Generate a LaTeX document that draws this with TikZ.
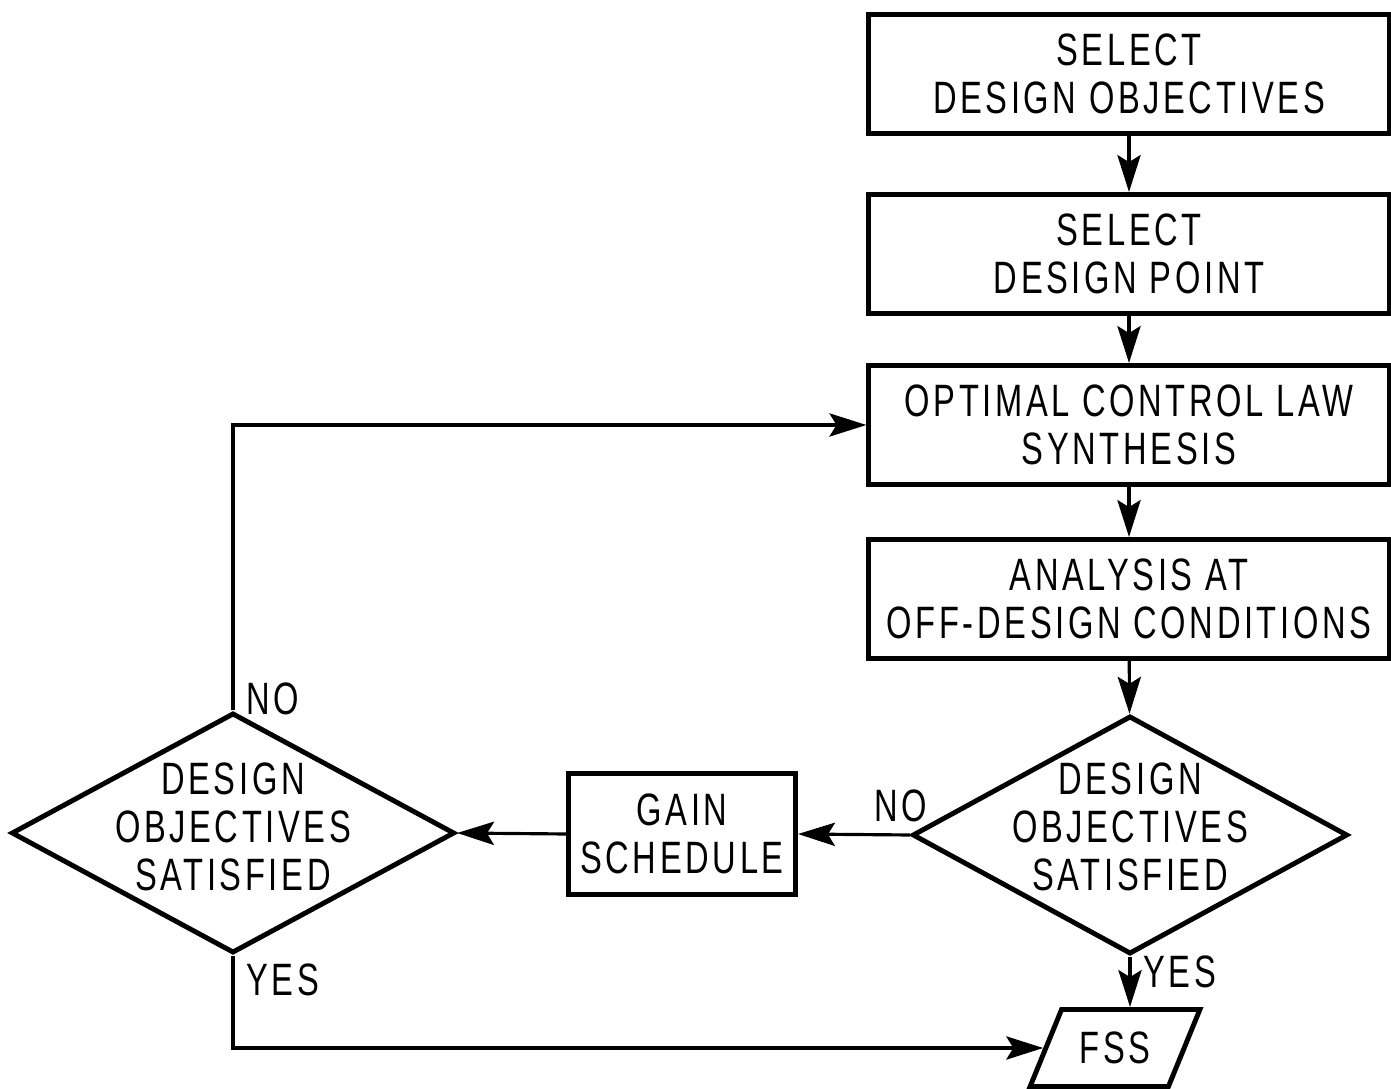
\documentclass[tikz,border=0pt]{standalone}
\usepackage{fontspec}
\setmainfont{Liberation Sans}[FakeStretch=0.72,LetterSpace=8]
\usetikzlibrary{arrows.meta,shapes.geometric}

\begin{document}
\begin{tikzpicture}[x=0.01cm,y=-0.01cm,
	font=\fontsize{12.9}{13.6}\selectfont,
	>={Stealth[length=10.5pt,width=6.6pt,inset=2pt]},
	box/.style={draw,line width=1.4pt,align=center,inner sep=0pt,minimum width=5.2cm,minimum height=1.19cm},
	decision/.style={draw,diamond,line width=1.4pt,inner sep=0pt,minimum width=4.35cm,minimum height=2.38cm},
	flow/.style={line width=0.9pt}]
	\useasboundingbox (0,0) rectangle (1391,1089);

	\node [box] (objectives) at (1129,74) {SELECT\\DESIGN OBJECTIVES};
	\node [box] (point) at (1129,254) {SELECT\\DESIGN POINT};
	\node [box] (synthesis) at (1129,425) {OPTIMAL CONTROL LAW\\SYNTHESIS};
	\node [box] (offdesign) at (1129,599) {ANALYSIS AT\\OFF-DESIGN CONDITIONS};
	\node [decision] (check) at (1130,835) {};
	\node [align=center] at (1130,827) {DESIGN\\OBJECTIVES\\SATISFIED};
	\node [box,minimum width=2.27cm,minimum height=1.21cm] (gain) at (682,834) {GAIN\\SCHEDULE};
	\node [decision,minimum width=4.43cm,minimum height=2.4cm] (recheck) at (233,833) {};
	\node [align=center] at (233,827) {DESIGN\\OBJECTIVES\\SATISFIED};
	\node [draw,trapezium,trapezium left angle=57,trapezium right angle=123,trapezium stretches=true,
		line width=1.4pt,minimum width=1.7cm,minimum height=0.77cm,inner sep=0pt] (fss) at (1115,1048) {FSS};

	\draw [flow,->] (objectives) -- (point);
	\draw [flow,->] (point) -- (synthesis);
	\draw [flow,->] (synthesis) -- (offdesign);
	\draw [flow,->] (offdesign) -- (check);
	\draw [flow,->] (check.west) -- (gain.east) node [pos=0.08,above] {NO};
	\draw [flow,->] (gain.west) -- (recheck.east);
	\draw [flow,->] (recheck.north) |- (synthesis.west) node [pos=0.02,right] {NO};
	\draw [flow,->] (recheck.south) |- (fss.west) node [pos=0.13,right] {YES};
	\draw [flow,->] (check.south) -- (check.south |- fss.north) node [pos=0.3,right] {YES};
\end{tikzpicture}
\end{document}
